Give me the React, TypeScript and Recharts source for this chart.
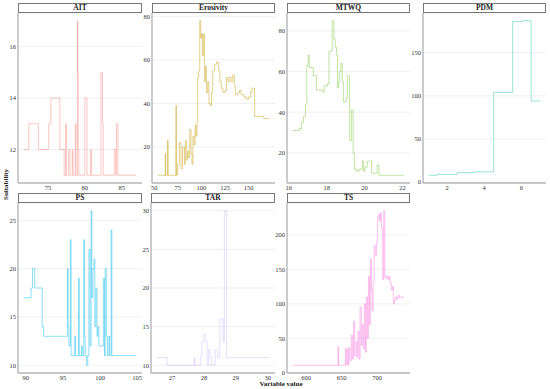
import React from 'react';
import { LineChart, Line, XAxis, YAxis, CartesianGrid } from 'recharts';

// ---------- data (variable value, suitability) ----------
const AIT: number[][] = [
  [71.7, 12], [72.4, 13], [73.7, 12], [75.1, 13], [75.4, 14], [76.6, 12], [77.2, 11], [77.4, 13], [77.5, 11],
  [77.8, 12], [78.0, 11], [78.3, 12], [78.4, 11], [78.7, 13], [78.8, 11], [79.0, 17], [79.05, 15], [79.1, 12],
  [79.2, 11], [80.0, 14], [80.3, 11], [80.8, 12], [80.9, 11], [82.2, 15], [82.4, 13], [82.5, 11], [84.0, 12],
  [84.2, 11], [84.3, 13], [84.5, 11], [87.0, 11],
];
const EROSIVITY: number[][] = [
  [53.6, 7], [61.7, 17], [62.2, 7], [64.2, 23], [64.7, 7], [73, 39], [73.5, 7], [74.8, 12], [76.6, 22], [78.4, 10],
  [80, 20], [82, 12], [83, 23], [84.4, 14], [85.5, 18], [86.5, 15], [87.6, 28], [89, 17], [90, 12], [91, 25],
  [92.2, 21], [93.3, 30], [94.3, 25], [95.4, 32], [96, 52], [97.2, 55], [98.2, 78], [99.3, 70], [100, 72],
  [101, 62], [102, 72], [103.2, 50], [104.3, 57], [105.3, 45], [106.7, 50], [108, 40], [109.2, 39], [110.6, 45],
  [112, 55], [114, 58], [116, 59], [118, 55], [119.5, 50], [121, 47], [122.7, 45], [125, 46], [126.6, 52],
  [128, 50], [129.8, 52], [131.5, 50], [133.3, 53], [134.8, 48], [136, 44], [138.7, 45], [140.4, 46], [142, 44],
  [145, 43], [147.5, 42], [150, 43], [152, 45], [153.5, 47], [155, 47], [156.4, 34], [163.5, 34], [166, 33],
  [172, 33],
];
const MTWQ: number[][] = [
  [16.2, 31], [16.56, 32], [16.67, 35], [16.78, 38], [16.88, 44], [16.95, 63], [17.02, 68], [17.08, 62],
  [17.29, 58], [17.46, 51], [17.76, 50], [17.87, 53], [18.05, 54], [18.12, 70], [18.24, 70], [18.29, 85],
  [18.38, 76], [18.45, 72], [18.52, 68], [18.57, 52], [18.63, 55], [18.68, 60], [18.75, 64], [18.82, 55],
  [18.89, 45], [19.02, 47], [19.09, 58], [19.21, 26], [19.3, 41], [19.39, 20], [19.46, 12], [19.56, 11],
  [19.7, 12], [19.88, 16], [19.95, 11], [20.02, 13], [20.14, 16], [20.27, 16], [20.37, 10], [20.66, 14],
  [20.76, 9], [22.1, 9],
];
const PDM: number[][] = [
  [1.01, 8], [1.46, 9], [2.54, 11], [3.52, 12], [4.51, 104], [5.53, 186], [6.04, 187], [6.52, 94], [7.02, 94],
];
const PS: number[][] = [
  [89.7, 17], [90.7, 18], [90.9, 20], [91.2, 18], [92.2, 14], [92.4, 13], [95.6, 20], [95.7, 14], [95.8, 12],
  [96, 23], [96.1, 11], [96.6, 13], [96.7, 11], [97.1, 19], [97.2, 11], [97.5, 12], [97.6, 11], [97.8, 23],
  [97.9, 13], [98.0, 11], [98.2, 10], [98.35, 11], [98.5, 22], [98.65, 12], [98.8, 26], [98.9, 17], [99.05, 20],
  [99.2, 21], [99.3, 14], [99.45, 18], [99.6, 13], [99.7, 14], [99.85, 12], [100.2, 12], [100.45, 19],
  [100.6, 11], [100.7, 20], [100.85, 13], [101.0, 11], [101.2, 13], [101.3, 11], [101.5, 24], [101.6, 11],
  [104.9, 11],
];
const TAR: number[][] = [
  [26.52, 11], [26.85, 10], [27.7, 11], [27.72, 10], [27.89, 11], [27.93, 13], [27.99, 14], [28.06, 13],
  [28.1, 10], [28.15, 12], [28.19, 11], [28.24, 10], [28.35, 12], [28.43, 11], [28.5, 16], [28.6, 13],
  [28.64, 30], [28.71, 11], [30.05, 11],
];
const TS: number[][] = [
  [581, 11], [645, 38], [645.8, 11], [655.4, 35], [656.5, 11], [658, 35], [659.2, 12], [660.6, 37], [662, 18],
  [663.8, 55], [665.6, 20], [667, 75], [668.4, 25], [670.4, 45], [671.8, 22], [673, 60], [674.6, 20], [676, 95],
  [677.8, 40], [679, 70], [680.6, 35], [682, 100], [683.6, 30], [685, 110], [686.4, 50], [687.8, 140],
  [689.2, 70], [690.6, 165], [692, 120], [693, 90], [694.4, 130], [695.8, 185], [697.5, 170], [699.3, 190],
  [700.5, 225], [701.9, 230], [703.3, 220], [704.7, 232], [706, 210], [708, 135], [709.4, 235], [710.8, 140],
  [712.2, 137], [713.6, 140], [715.5, 135], [716.9, 140], [718.3, 130], [720.2, 120], [721.6, 125], [723, 100],
  [724.4, 105], [725.8, 110], [727.7, 107], [729.6, 112], [731.5, 109], [733.8, 110], [738.5, 110],
];

const NAMES = ['AIT', 'Erosivity', 'MTWQ', 'PDM', 'PS', 'TAR', 'TS'];
const SERIES = [AIT, EROSIVITY, MTWQ, PDM, PS, TAR, TS];
const X_TICKS = [[75, 80, 85], [50, 75, 100, 125, 150], [16, 18, 20, 22], [2, 4, 6], [90, 95, 100, 105], [27, 28, 29, 30], [600, 650, 700]];
const Y_TICKS = [[12, 14, 16], [20, 40, 60, 80], [20, 40, 60, 80], [0, 50, 100, 150], [10, 15, 20, 25], [10, 15, 20, 25, 30], [0, 50, 100, 150, 200]];

// ---------- layout / styles ----------
const COLORS = ['#F8766D', '#C49A00', '#53B400', '#00C094', '#00B6EB', '#A58AFF', '#FB61D7'];
const OPAC = [0.45, 0.5, 0.4, 0.45, 0.5, 0.3, 0.45];
const LAYOUT = [
  { l: 18, t: 13, w: 124 }, { l: 152, t: 13, w: 123 }, { l: 287, t: 13, w: 123 }, { l: 423, t: 13, w: 123 },
  { l: 18, t: 203, w: 124 }, { l: 151, t: 203, w: 124 }, { l: 287, t: 203, w: 123 },
];
const PLOT_H = 170;
const FONT = '"Liberation Serif", serif';

function expand(v: number[]): [number, number] {
  const mn = Math.min(...v);
  const mx = Math.max(...v);
  const p = (mx - mn) * 0.05;
  return [mn - p, mx + p];
}

const tickStyle = { fontSize: 6.5, fill: '#333', fontFamily: FONT };

function Panel({ i }: { i: number }) {
  const pts = SERIES[i].map(([x, y]) => ({ x, y }));
  const xd = expand(SERIES[i].map((p) => p[0]));
  const yd = expand(SERIES[i].map((p) => p[1]));
  const L = LAYOUT[i];
  const yw = 16;
  return (
    <>
      <div
        style={{
          position: 'absolute', left: L.l, top: L.t - 10, width: L.w, height: 10, boxSizing: 'border-box',
          border: '1px solid #777', background: '#fff', textAlign: 'center', fontFamily: FONT, fontWeight: 'bold',
          fontSize: 7.5, lineHeight: '8px', color: '#222',
        }}
      >
        {NAMES[i]}
      </div>
      <div style={{ position: 'absolute', left: L.l - yw, top: L.t }}>
        <LineChart width={L.w + yw + 2} height={PLOT_H + 10} data={pts} margin={{ top: 0, right: 2, bottom: 0, left: 0 }}>
          <CartesianGrid horizontal vertical={false} stroke="#ececec" strokeWidth={0.8} />
          <XAxis
            type="number" dataKey="x" domain={xd} ticks={X_TICKS[i]} allowDataOverflow height={10}
            tick={tickStyle} tickLine={false} tickSize={1} axisLine={{ stroke: '#999' }} tickMargin={1} interval={0}
          />
          <YAxis
            type="number" domain={yd} ticks={Y_TICKS[i]} allowDataOverflow width={yw}
            tick={tickStyle} tickLine={false} tickSize={1} axisLine={{ stroke: '#999' }} tickMargin={1} interval={0}
          />
          <Line
            type="stepAfter" dataKey="y" dot={false} stroke={COLORS[i]} strokeOpacity={OPAC[i]} strokeWidth={0.9}
            isAnimationActive={false}
          />
        </LineChart>
      </div>
    </>
  );
}

export default function App() {
  return (
    <div style={{ position: 'absolute', left: 0, top: 0, width: 550, height: 389, background: '#fff', overflow: 'hidden' }}>
      {NAMES.map((_, i) => (
        <Panel key={i} i={i} />
      ))}
      <div
        style={{
          position: 'absolute', left: 2, top: 200, transform: 'rotate(-90deg)', transformOrigin: 'left top',
          fontFamily: FONT, fontWeight: 'bold', fontSize: 7, color: '#222', whiteSpace: 'nowrap',
        }}
      >
        Suitability
      </div>
      <div
        style={{
          position: 'absolute', left: 231, top: 380, width: 100, textAlign: 'center', fontFamily: FONT,
          fontWeight: 'bold', fontSize: 7, lineHeight: '8px', color: '#222',
        }}
      >
        Variable value
      </div>
    </div>
  );
}
